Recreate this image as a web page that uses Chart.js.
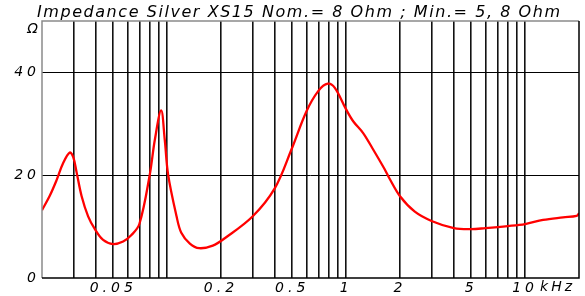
<!DOCTYPE html>
<html><head><meta charset="utf-8">
<style>html,body{margin:0;padding:0;background:#fff}canvas{display:block}</style>
<script src="https://cdn.jsdelivr.net/npm/chart.js@4/dist/chart.umd.min.js"></script>
</head><body>
<canvas id="c" width="585" height="296"></canvas>
<script>
const titleText = 'Impedance Silver XS15 Nom.= 8 Ohm ; Min.= 5, 8 Ohm';
const freqKHz = [0.02, 0.0221, 0.0241, 0.0263, 0.0286, 0.0299, 0.0312, 0.0333, 0.0362, 0.0395, 0.0439, 0.0499, 0.0568, 0.063, 0.07, 0.08, 0.0854, 0.0926, 0.097, 0.1013, 0.1129, 0.12, 0.134, 0.151, 0.18, 0.21, 0.3, 0.4, 0.495, 0.6, 0.7, 0.79, 0.865, 1.0, 1.095, 1.245, 1.416, 1.645, 1.75, 2.0, 2.42, 3.0, 4.0, 5.0, 6.0, 8.0, 10, 12.6, 16.3, 19.4, 20];
const impedanceOhm = [13.2, 16.0, 19.0, 22.4, 24.4, 23.5, 20.6, 15.9, 12.0, 9.5, 7.4, 6.6, 7.1, 8.3, 10.5, 20.1, 26.9, 32.6, 26.9, 20.1, 12.0, 8.8, 6.7, 5.8, 6.3, 7.74, 11.97, 17.5, 25.0, 32.4, 36.4, 37.8, 37.0, 32.8, 30.5, 28.2, 25.0, 21.1, 19.3, 15.9, 12.9, 11.1, 9.7, 9.5, 9.7, 10.1, 10.5, 11.3, 11.8, 12.1, 12.6];
const xGridValues = [0.03,0.04,0.05,0.06,0.07,0.08,0.09,0.1,0.2,0.3,0.4,0.5,0.6,0.7,0.8,0.9,1,2,3,4,5,6,7,8,9,10];
const xLabelValues = [0.05,0.2,0.5,1,2,5,10];
const yTickValues = [0,20,40,50];
const yLabelValues = [0,20,40];
const yUnit = 'Ω';
const xUnit = 'kHz';

const FONT = 'DejaVu Sans';
const deco = {
  id: 'deco',
  beforeDraw(chart) {
    const ctx = chart.ctx;
    ctx.save();
    ctx.fillStyle = '#fff';
    ctx.fillRect(0, 0, chart.width, chart.height);
    ctx.restore();
    ctx.letterSpacing = '4px';
  },
  afterDraw(chart) {
    const ctx = chart.ctx;
    const a = chart.chartArea;
    ctx.save();
    ctx.lineWidth = 1.5;
    ctx.strokeStyle = '#8a8a8a';
    ctx.beginPath();
    ctx.moveTo(a.left, a.bottom); ctx.lineTo(a.left, a.top); ctx.lineTo(a.right, a.top);
    ctx.stroke();
    ctx.strokeStyle = '#000';
    ctx.beginPath();
    ctx.moveTo(a.left, a.bottom); ctx.lineTo(a.right, a.bottom); ctx.lineTo(a.right, a.top);
    ctx.stroke();
    ctx.fillStyle = '#000';
    ctx.font = 'italic 16px "' + FONT + '"';
    ctx.letterSpacing = '0px';
    const w = ctx.measureText(titleText).width;
    const sp = (523 - w) / (titleText.length - 1);
    ctx.letterSpacing = sp + 'px';
    ctx.textAlign = 'left';
    ctx.textBaseline = 'alphabetic';
    ctx.fillText(titleText, 37, 17);
    ctx.letterSpacing = '4px';
    ctx.font = 'italic 14px "' + FONT + '"';
    ctx.textAlign = 'right';
    ctx.textBaseline = 'middle';
    ctx.fillText(yUnit, 42, 29);
    ctx.textAlign = 'left';
    ctx.textBaseline = 'top';
    const x10 = chart.scales.x.getPixelForValue(10);
    ctx.letterSpacing = '3px';
    ctx.fillText(xUnit, x10 + 15, a.bottom + 2);
    ctx.restore();
  }
};

new Chart(document.getElementById('c'), {
  type: 'line',
  data: { datasets: [{
    data: freqKHz.map((f, i) => ({ x: f, y: impedanceOhm[i] })),
    borderColor: '#ff0000', borderWidth: 2.3, pointRadius: 0,
    tension: 0.35, fill: false
  }]},
  options: {
    responsive: false, animation: false, devicePixelRatio: 1,
    layout: { padding: { top: 21, right: 6, left: 0, bottom: 0 } },
    plugins: { legend: { display: false }, tooltip: { enabled: false } },
    scales: {
      x: {
        type: 'logarithmic', min: 0.02, max: 20,
        afterBuildTicks: s => { s.ticks = xGridValues.map(v => ({ value: v })); },
        afterFit: s => { s.height = 18; },
        grid: { color: '#111', lineWidth: 1.6, drawTicks: false },
        border: { display: false },
        ticks: {
          autoSkip: false, maxRotation: 0, padding: 2, color: '#000',
          font: { family: FONT, style: 'italic', size: 14 },
          callback: v => xLabelValues.includes(v) ? String(v) : ''
        }
      },
      y: {
        min: 0, max: 50,
        afterBuildTicks: s => { s.ticks = yTickValues.map(v => ({ value: v })); },
        afterFit: s => { s.width = 42; },
        grid: { color: c => (c.tick && yLabelValues.includes(c.tick.value) && c.tick.value !== 0) ? '#000' : 'rgba(0,0,0,0)', lineWidth: 1, drawTicks: false },
        border: { display: false },
        ticks: {
          padding: 2, color: '#000',
          font: { family: FONT, style: 'italic', size: 14 },
          callback: v => yLabelValues.includes(v) ? String(v) : ''
        }
      }
    }
  },
  plugins: [deco]
});
</script>
</body></html>
